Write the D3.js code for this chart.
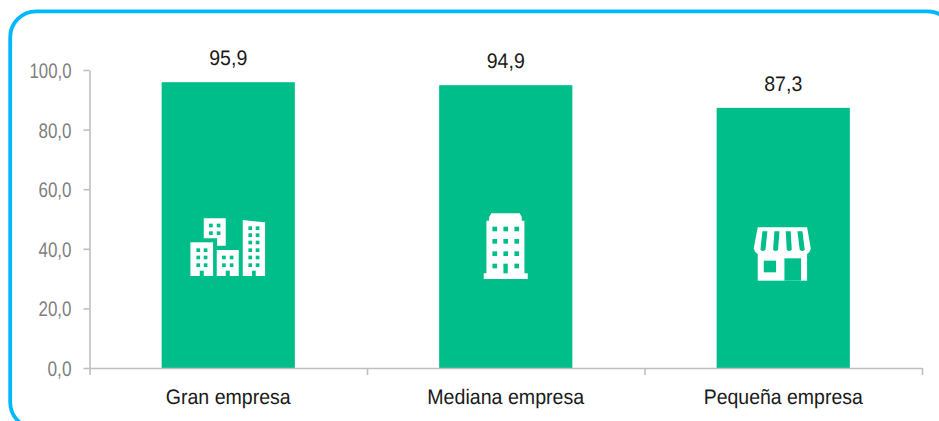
<!DOCTYPE html>
<html>
<head>
<meta charset="utf-8">
<script src="https://cdn.jsdelivr.net/npm/d3@7"></script>
<style>
html, body { margin: 0; padding: 0; background: #fff; overflow: hidden; }
text { font-family: "Liberation Sans", Arial, sans-serif; text-rendering: geometricPrecision; }
</style>
</head>
<body>
<div id="chart"></div>
<script>
var categories = ['Gran empresa', 'Mediana empresa', 'Pequeña empresa']
var values = [95.9, 94.9, 87.3]
var valueLabels = ['95,9', '94,9', '87,3']
var yTicks = [0, 20, 40, 60, 80, 100]
var catWidths = [125, 157, 159]

var green = '#00BE8A'
var grey = '#bfbfbf'

var svg = d3.select('#chart').append('svg')
            .attr('width', 939)
            .attr('height', 421)
            .style('display', 'block')

// blue frame runs off the right and bottom of the picture
svg.append('rect')
   .attr('x', 10.2).attr('y', 11.3)
   .attr('width', 943.5).attr('height', 417)
   .attr('rx', 26).attr('ry', 26)
   .attr('fill', 'none')
   .attr('stroke', '#00B8FF')
   .attr('stroke-width', 3.8)

var x = d3.scaleBand().domain(categories).range([89.5, 922]).padding(0.52).paddingOuter(0.26)
var xEdges = d3.scaleLinear().domain([0, categories.length]).range([89.5, 922])
var y = d3.scaleLinear().domain([0, 100]).range([368, 70])

// bars
svg.selectAll('.bar').data(values).enter().append('rect')
   .attr('class', 'bar')
   .attr('x', function(d, i){ return x(categories[i]) })
   .attr('y', function(d){ return y(d) })
   .attr('width', x.bandwidth())
   .attr('height', function(d){ return y(0) - y(d) })
   .attr('fill', green)

// axes
var yAxis = svg.append('g')
   .attr('transform', 'translate(89.5,0)')
   .call(d3.axisLeft(y).tickValues(yTicks).tickSize(6).tickSizeOuter(0).tickPadding(0).tickFormat(function(d){ return d.toFixed(1).replace('.', ',') }))

var xAxis = svg.append('g')
   .attr('transform', 'translate(0,368)')
   .call(d3.axisBottom(xEdges).ticks(categories.length).tickSize(7).tickSizeOuter(0).tickFormat(''))

svg.selectAll('.domain, .tick line').attr('stroke', grey).attr('stroke-width', 1.6)

yAxis.selectAll('text')
   .attr('x', -18)
   .attr('dy', '0.36em')
   .attr('fill', '#7f7f7f')
   .attr('font-size', 21)
   .attr('lengthAdjust', 'spacingAndGlyphs')
   .attr('textLength', function(d){ return d == 100 ? 42 : d == 0 ? 24 : 33 })

// category names
svg.selectAll('.cat').data(categories).enter().append('text')
   .attr('class', 'cat')
   .attr('x', function(d){ return x(d) + x.bandwidth() / 2 })
   .attr('y', 404)
   .attr('text-anchor', 'middle')
   .attr('font-size', 21)
   .attr('fill', '#1a1a1a')
   .attr('textLength', function(d, i){ return catWidths[i] })
   .attr('lengthAdjust', 'spacingAndGlyphs')
   .text(function(d){ return d })

// value labels
svg.selectAll('.val').data(values).enter().append('text')
   .attr('class', 'val')
   .attr('x', function(d, i){ return x(categories[i]) + x.bandwidth() / 2 })
   .attr('y', function(d){ return y(d) - 17 })
   .attr('text-anchor', 'middle')
   .attr('font-size', 21)
   .attr('fill', '#1a1a1a')
   .attr('textLength', 38)
   .attr('lengthAdjust', 'spacingAndGlyphs')
   .text(function(d, i){ return valueLabels[i] })

// icons, drawn in a 3x grid and scaled down
function icon(i, cx, top){
  return svg.append('g')
     .attr('transform', 'translate(' + (x(categories[i]) + x.bandwidth() / 2 - cx / 3) + ',' + top + ') scale(0.3333)')
}
function box(g, x0, y0, x1, y1, fill){
  g.append('rect').attr('x', x0).attr('y', y0).attr('width', x1 - x0).attr('height', y1 - y0).attr('fill', fill)
}
function windows(g, xs, ys, w, h){
  xs.forEach(function(a){ ys.forEach(function(b){ box(g, a, b, a + w, b + h, green) }) })
}

// big company: four buildings
var g1 = icon(0, 175.5, 200)
box(g1, 62, 127, 130, 228, '#fff')
windows(g1, [80, 102], [145, 167, 190], 11, 11)
box(g1, 90, 212, 102, 228, green)
g1.append('path').attr('d', 'M102,55H168V137H142V115H102Z').attr('fill', '#fff')
windows(g1, [118, 141], [71, 94], 11, 11)
box(g1, 141, 150, 207, 228, '#fff')
windows(g1, [157, 180], [167, 190], 11, 11)
box(g1, 168, 212, 180, 228, green)
g1.append('path').attr('d', 'M219,60L286,67V228H219Z').attr('fill', '#fff')
windows(g1, [236, 258], [79, 100, 122, 145, 167, 190], 11, 11)
box(g1, 247, 212, 258, 228, green)

// medium company: one block
var g2 = icon(1, 106, 200)
g2.append('path').attr('d', 'M63,40H148L154,52V62H162V220H172V237H40V220H48V62H56V52Z').attr('fill', '#fff')
windows(g2, [66, 99, 132], [80, 117, 154], 14, 14)
windows(g2, [66, 132], [191], 14, 14)
box(g2, 99, 191, 112, 220, green)

// small company: shop with awning
var g3 = icon(2, 118.5, 215)
box(g3, 42, 105, 190, 197, '#fff')
box(g3, 60, 137, 97, 172, green)
box(g3, 122, 130, 172, 197, green)
g3.append('path').attr('d', 'M42,37H190L201,100Q198,120 178,120H54Q34,120 30,100Z').attr('fill', '#fff')
var slits = ['M56,49H71L65,104Q58,112 50,104Z', 'M92,49H107L103,104Q95,112 88,104Z', 'M126,49H141L144,104Q136,112 129,104Z', 'M161,49H176L183,104Q176,112 168,104Z']
slits.forEach(function(d){ g3.append('path').attr('d', d).attr('fill', green) })
</script>
</body>
</html>
